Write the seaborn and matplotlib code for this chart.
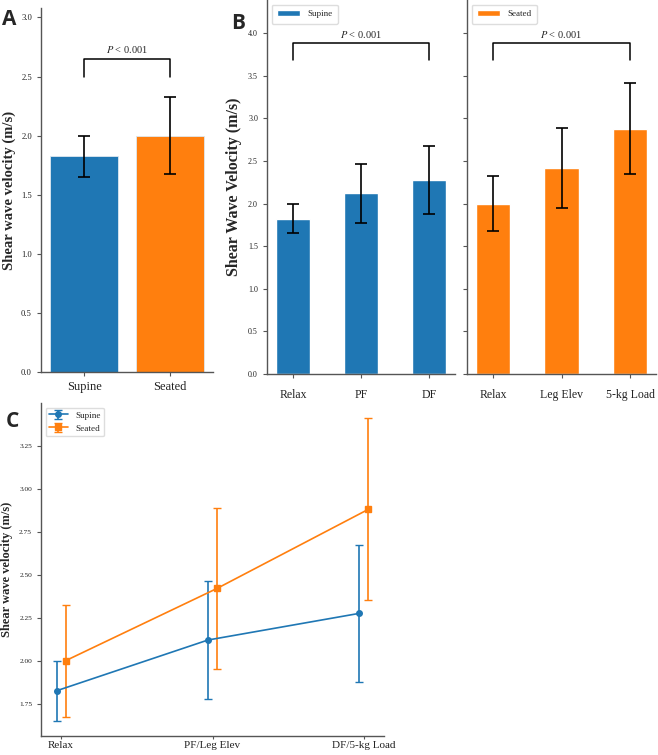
import numpy as np
import pandas as pd
import matplotlib
matplotlib.use('Agg')
import matplotlib.pyplot as plt
import seaborn as sns

# ── Data ──────────────────────────────────────────────────────────────────
positions      = ['Supine', 'Seated']
pos_mean       = [1.825, 2.00]
pos_err        = [0.175, 0.325]

supine_tasks   = ['Relax', 'PF', 'DF']
supine_mean    = [1.825, 2.12, 2.275]
supine_err     = [0.175, 0.345, 0.40]

seated_tasks   = ['Relax', 'Leg Elev', '5-kg Load']
seated_mean    = [2.00, 2.42, 2.88]
seated_err     = [0.325, 0.47, 0.53]

combined_tasks = ['Relax', 'PF/Leg Elev', 'DF/5-kg Load']

BLUE   = '#1f77b4'
ORANGE = '#ff7f0e'

sns.set_style('ticks')
plt.rcParams['font.family'] = ['Liberation Serif', 'DejaVu Serif']
plt.rcParams['mathtext.fontset'] = 'stix'
plt.rcParams['axes.edgecolor'] = '#555555'
plt.rcParams['xtick.color'] = '#555555'
plt.rcParams['ytick.color'] = '#555555'
plt.rcParams['xtick.labelcolor'] = '#222222'
plt.rcParams['ytick.labelcolor'] = '#222222'

fig = plt.figure(figsize=(6.58, 7.55), dpi=100)
W, H = 658, 755


def add_ax(left, top, right, bottom):
    return fig.add_axes([left / W, 1 - bottom / H, (right - left) / W, (bottom - top) / H])


def bracket(ax, x0, x1, y0, y1, text, fs=7.5):
    ax.plot([x0, x0, x1, x1], [y0, y1, y1, y0], color='black', lw=1.1)
    ax.text((x0 + x1) / 2, y1 + 0.03, text, ha='center', va='bottom', fontsize=fs)


def style(ax):
    sns.despine(ax=ax)
    ax.tick_params(length=3, width=0.8)
    for s in ['left', 'bottom']:
        ax.spines[s].set_linewidth(1.0)


# ── Panel A ───────────────────────────────────────────────────────────────
axA = add_ax(41, 8, 213, 372)
dfA = pd.DataFrame({'pos': positions, 'v': pos_mean})
sns.barplot(data=dfA, x='pos', y='v', hue='pos', palette=[BLUE, ORANGE],
            saturation=1, width=0.8, edgecolor='#dde8f0', linewidth=0.6,
            legend=False, ax=axA)
axA.errorbar(range(len(positions)), pos_mean, yerr=pos_err, fmt='none',
             ecolor='black', elinewidth=1.2, capsize=4.5, capthick=1.2)
axA.set_xlim(-0.5, 1.5)
axA.set_ylim(0, 3.08)
axA.set_yticks(np.arange(0, 3.01, 0.5))
axA.tick_params(axis='y', labelsize=6.2)
axA.tick_params(axis='x', labelsize=9)
axA.set_xlabel('')
axA.set_ylabel('Shear wave velocity (m/s)', fontsize=10.5, fontweight='bold', labelpad=4)
bracket(axA, 0, 1, 2.5, 2.65, r'$P$ < 0.001')
style(axA)

# ── Panel B ───────────────────────────────────────────────────────────────
axB1 = add_ax(267, 0, 455, 374)
axB2 = add_ax(467, 0, 656, 374)

for ax, tasks, means, errs, col, lab in [
        (axB1, supine_tasks, supine_mean, supine_err, BLUE, 'Supine'),
        (axB2, seated_tasks, seated_mean, seated_err, ORANGE, 'Seated')]:
    d = pd.DataFrame({'task': tasks, 'v': means})
    sns.barplot(data=d, x='task', y='v', color=col, saturation=1, width=0.5,
                label=lab, ax=ax)
    ax.errorbar(range(len(tasks)), means, yerr=errs, fmt='none',
                ecolor='black', elinewidth=1.2, capsize=4.5, capthick=1.2)
    ax.set_xlim(-0.38, 2.38)
    ax.set_ylim(0, 4.39)
    ax.set_yticks(np.arange(0, 4.01, 0.5))
    ax.tick_params(axis='y', labelsize=5.8)
    ax.tick_params(axis='x', labelsize=8.5, pad=8)
    ax.set_xlabel('')
    ax.set_ylabel('')
    bracket(ax, 0, 2, 3.68, 3.89, r'$P$ < 0.001')
    ax.legend(loc='upper left', fontsize=6.5, frameon=True, handlelength=2.6,
              borderpad=0.6, bbox_to_anchor=(0.0, 1.0), framealpha=1,
              edgecolor='#dddddd')
    style(ax)

axB2.tick_params(axis='y', labelleft=False)
axB1.set_ylabel('Shear Wave Velocity (m/s)', fontsize=11.5, fontweight='bold', labelpad=4)

# ── Panel C ───────────────────────────────────────────────────────────────
axC = add_ax(41, 403, 384, 736)
xs = np.arange(len(combined_tasks))
axC.errorbar(xs - 0.03, supine_mean, yerr=supine_err, color=BLUE, marker='o',
             markersize=4, lw=1.2, capsize=3, label='Supine')
axC.errorbar(xs + 0.03, seated_mean, yerr=seated_err, color=ORANGE, marker='s',
             markersize=4, lw=1.2, capsize=3, label='Seated')
axC.set_xticks(xs)
axC.set_xticklabels(combined_tasks)
axC.tick_params(axis='y', labelsize=5.3)
axC.tick_params(axis='x', labelsize=8, pad=1.5)
axC.set_ylabel('Shear wave velocity (m/s)', fontsize=9, fontweight='bold', labelpad=4)
axC.legend(loc='upper left', fontsize=6.6, frameon=True, framealpha=1,
           edgecolor='#dddddd')
style(axC)
axC.tick_params(axis='x', length=2)

# ── Panel letters ─────────────────────────────────────────────────────────
for lbl, x, y in [('A', 2, 9), ('B', 231, 13), ('C', 6, 411)]:
    fig.text(x / W, 1 - y / H, lbl, fontsize=15, fontweight='bold',
             family=['Open Sans', 'DejaVu Sans'], va='top', ha='left')

fig.savefig('out.png', dpi=100)
